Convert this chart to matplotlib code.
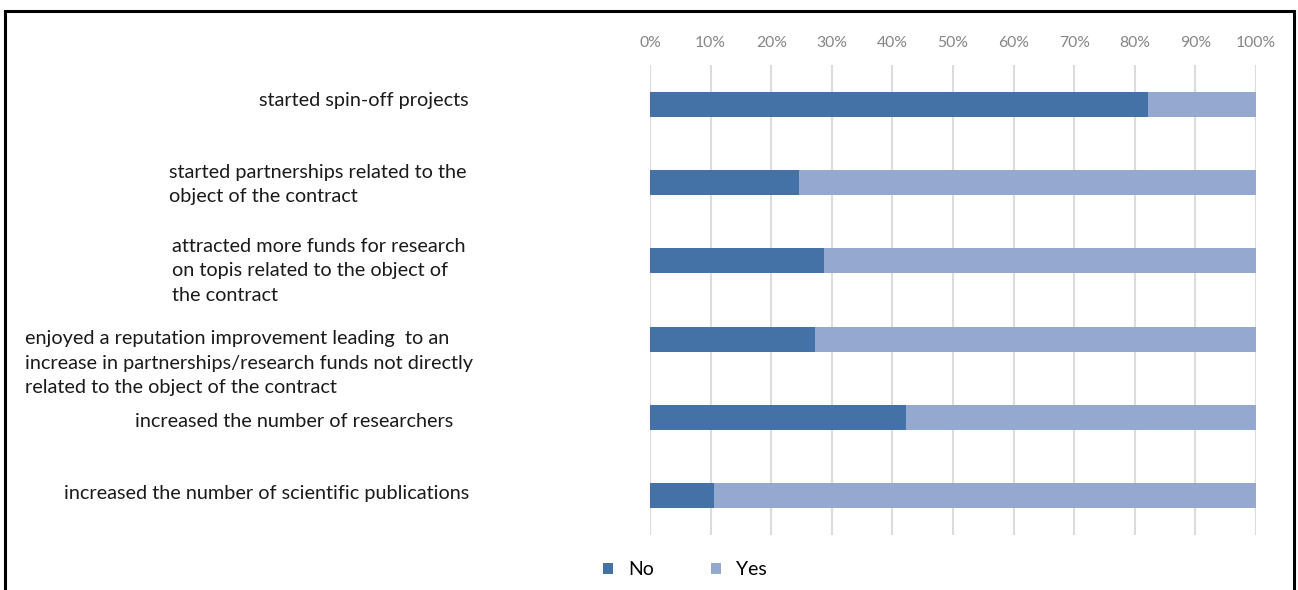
import matplotlib
matplotlib.use("Agg")
import matplotlib.pyplot as plt
from matplotlib.patches import Rectangle
from matplotlib.transforms import offset_copy

# Survey outcomes: share of "No" / "Yes" answers (%)
categories = [
    "started spin-off projects",
    "started partnerships related to the\nobject of the contract",
    "attracted more funds for research\non topis related to the object of\nthe contract",
    "enjoyed a reputation improvement leading  to an\nincrease in partnerships/research funds not directly\nrelated to the object of the contract",
    "increased the number of researchers",
    "increased the number of scientific publications",
]
no_values = [82.2, 24.5, 28.7, 27.2, 42.3, 10.6]
yes_values = [100 - v for v in no_values]
tick_labels = ["0%", "10%", "20%", "30%", "40%", "50%", "60%", "70%", "80%", "90%", "100%"]

dark_blue = "#4472A7"
light_blue = "#94A8D0"

# Small nudges (pixels) for each category label block
label_dx = [-1, -3, -4, 4, -16, 0]
label_dy = [4, -2, -10, -24, -4, 2]

plt.rcParams["font.family"] = ["Lato", "DejaVu Sans"]

fig = plt.figure(figsize=(12.98, 5.90), dpi=100)
ax = fig.add_axes([0.5008, 0.0932, 0.4669, 0.7966])

ypos = list(range(len(categories)))
ax.barh(ypos, no_values, height=0.32, color=dark_blue, label="No", zorder=3)
ax.barh(ypos, yes_values, left=no_values, height=0.32, color=light_blue, label="Yes", zorder=3)

ax.set_xlim(0, 100)
ax.set_ylim(len(categories) - 0.5, -0.5)
ax.set_xticks(range(0, 101, 10))
ax.set_xticklabels(tick_labels)
ax.xaxis.tick_top()
ax.tick_params(axis="x", length=0, pad=10.5, labelsize=11.3, labelcolor="#858585")
ax.set_yticks([])
ax.grid(axis="x", color="#dcdcdc", linewidth=1.5, zorder=0)
for s in ax.spines.values():
    s.set_visible(False)

# Category labels to the left of the bars
base = ax.get_yaxis_transform()
for y, text, dx, dy in zip(ypos, categories, label_dx, label_dy):
    tr = offset_copy(base, fig=fig, x=dx, y=dy, units="dots")
    ax.text(-0.298, y, text, transform=tr,
            ha="right", va="center", multialignment="left",
            fontsize=14.3, color="#1a1a1a", linespacing=1.52)

leg = ax.legend(loc="upper center", bbox_to_anchor=(0.058, -0.019), ncol=2,
                frameon=False, fontsize=14, handlelength=0.5, handleheight=0.5,
                handletextpad=0.8, columnspacing=2.9)

# Outer frame around the figure
fig.patches.append(Rectangle((0.0035, -0.05), 0.9935, 1.032, transform=fig.transFigure,
                             fill=False, edgecolor="black", linewidth=2.2))

fig.savefig("out.png", dpi=100)
